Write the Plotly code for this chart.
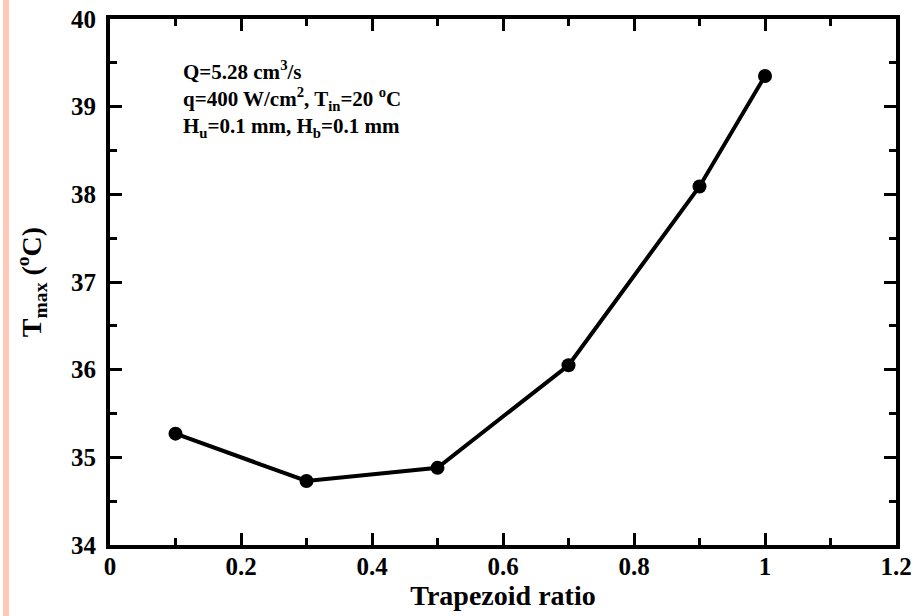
import plotly.graph_objects as go

ratio = [0.1, 0.3, 0.5, 0.7, 0.9, 1.0]
tmax = [35.27, 34.73, 34.88, 36.05, 38.09, 39.35]
x_range = [0, 1.2]
y_range = [34, 40]

FONT = "Liberation Serif"

fig = go.Figure()
fig.add_trace(go.Scatter(
    x=ratio, y=tmax, mode="lines+markers",
    line=dict(color="black", width=4),
    marker=dict(color="black", size=14),
    showlegend=False,
    cliponaxis=False,
))

axis_common = dict(
    showgrid=False, zeroline=False, showline=True, linecolor="black", linewidth=4,
    mirror="ticks", ticks="inside", ticklen=12, tickwidth=3, tickcolor="black",
    tickfont=dict(family=FONT, size=25, color="black", weight="bold"),
    automargin=False,
)

fig.update_layout(
    xaxis=dict(range=x_range, tick0=0, dtick=0.2,
               minor=dict(ticks="inside", dtick=0.1, ticklen=7, tickwidth=3, tickcolor="black"),
               title=dict(text="Trapezoid ratio", font=dict(family=FONT, size=28, color="black", weight="bold"), standoff=4),
               **axis_common),
    yaxis=dict(range=y_range, tick0=34, dtick=1, ticklabelstandoff=5,
               minor=dict(ticks="inside", dtick=0.5, ticklen=7, tickwidth=3, tickcolor="black"),
               title=dict(text="T<sub>max</sub> (<sup>o</sup>C)", font=dict(family=FONT, size=28, color="black", weight="bold"), standoff=22),
               **axis_common),
)
try:
    fig.update_xaxes(ticklabelstandoff=-4)
except ValueError:
    pass

fig.add_annotation(
    xref="paper", yref="paper", x=0.09, y=0.931, xanchor="left", yanchor="top",
    align="left", showarrow=False,
    text="Q=5.28 cm<sup>3</sup>/s<br>q=400 W/cm<sup>2</sup>, T<sub>in</sub>=20 <sup>o</sup>C<br>H<sub>u</sub>=0.1 mm, H<sub>b</sub>=0.1 mm",
    font=dict(family=FONT, size=21, color="black", weight="bold"),
)

# pink strip at left edge
fig.add_shape(type="rect", xref="paper", yref="paper",
              x0=(3 - 110) / 786, x1=(9 - 110) / 786, y0=-71 / 526, y1=1 + 19 / 526,
              fillcolor="#FFC9B8", line=dict(width=0), layer="below")

fig.update_layout(
    width=915, height=616,
    margin=dict(l=110, r=19, t=19, b=71, autoexpand=False),
    plot_bgcolor="white", paper_bgcolor="white",
)

fig.write_html("out.html")
